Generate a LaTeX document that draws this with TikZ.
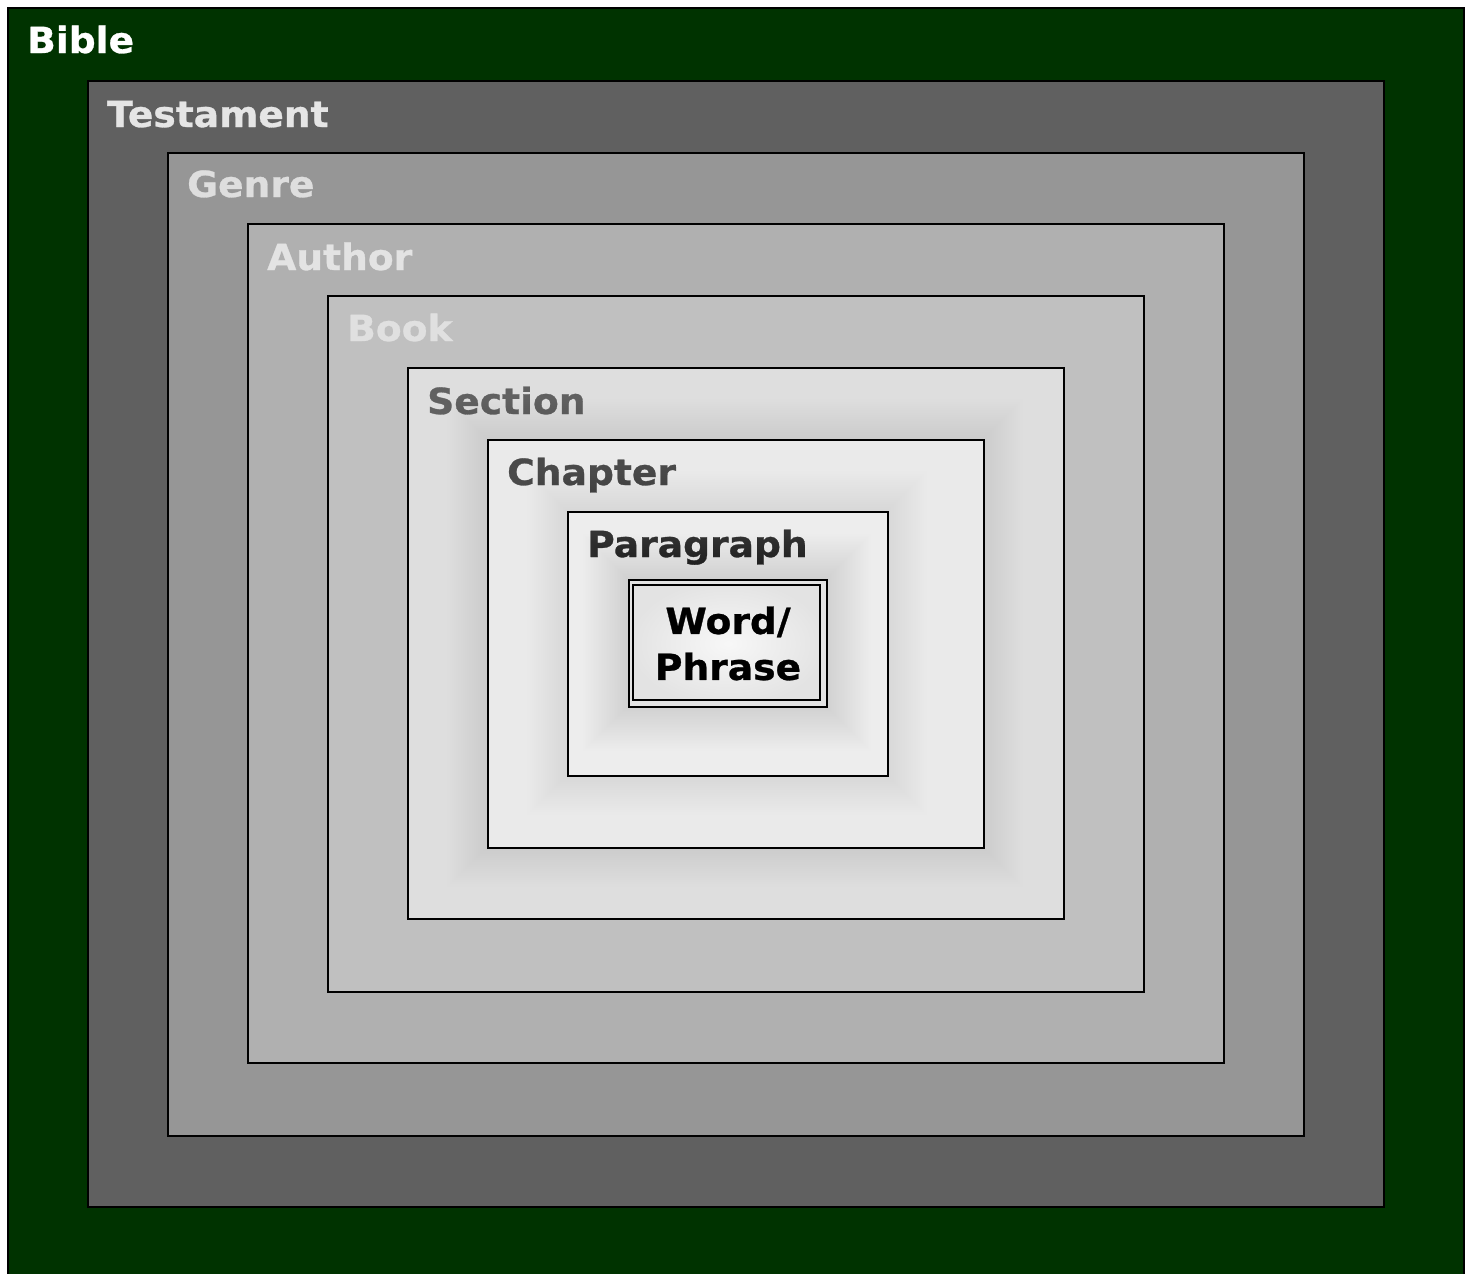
\documentclass[tikz,border=0pt]{standalone}
\usepackage{fontspec}
\setmainfont[FakeStretch=1.045, BoldFeatures={FakeBold=0.8}]{DejaVu Sans}
\definecolor{bibleg}{HTML}{003300}
\definecolor{testc}{HTML}{606060}
\definecolor{genrec}{HTML}{969696}
\definecolor{authorc}{HTML}{B0B0B0}
\definecolor{bookc}{HTML}{C0C0C0}
\definecolor{sectc}{HTML}{DEDEDE}
\definecolor{chapc}{HTML}{EAEAEA}
\definecolor{parac}{HTML}{EDEDED}
\tikzset{
  lvl/.style={draw=black, line width=2.4pt, inner sep=0pt, anchor=north west},
  lbl/.style={anchor=base west, inner sep=0pt, font=\fontsize{36}{44}\selectfont\bfseries},
  glowlayer/.style={fill=black, opacity=0.004},
}
% soft glow around a box: (x1,y1) top-left, (x2,y2) bottom-right (pixels, y down), #5 layers, #6 step
\newcommand{\softglow}[6]{%
  \foreach \k in {1,...,#5}{%
    \pgfmathsetmacro{\r}{\k*#6}%
    \fill[glowlayer] ({#1-\r},{-(#2-\r)}) rectangle ({#3+\r},{-(#4+\r)});
  }%
}
\begin{document}
\begin{tikzpicture}[x=1pt,y=1pt]
\useasboundingbox (0,0) rectangle (1468,-1274);
\fill[white] (0,0) rectangle (1468,-1274);
\clip (0,0) rectangle (1468,-1274);
% Bible
\node[lvl, fill=bibleg, minimum width=1456pt, minimum height=1300pt] (bible) at (7,-7) {};
\node[lbl, text=white] (tbible) at (27,-53) {Bible};
% Testament
\node[lvl, fill=testc, minimum width=1296pt, minimum height=1126pt] (testament) at (87,-80) {};
\node[lbl, text=white!90!black] (ttest) at (107,-127) {Testament};
% Genre
\node[lvl, fill=genrec, minimum width=1136pt, minimum height=983pt] (genre) at (167,-152) {};
\node[lbl, text=white!87!black] (tgenre) at (187,-197) {Genre};
% Author
\node[lvl, fill=authorc, minimum width=976pt, minimum height=839pt] (author) at (247,-223) {};
\node[lbl, text=white!89!black] (tauthor) at (267,-270) {Author};
% Book
\node[lvl, fill=bookc, minimum width=816pt, minimum height=696pt] (book) at (327,-295) {};
\node[lbl, text=white!88!black] (tbook) at (347,-341) {Book};
% Section
\node[lvl, fill=sectc, minimum width=656pt, minimum height=551pt] (section) at (407,-367) {};
\node[lbl, text=black!62] (tsection) at (427,-414) {Section};
% glow around Chapter
\begin{scope}
\clip (409,-369) rectangle (1061,-916);
\softglow{487}{439}{983}{847}{18}{2.2}
\end{scope}
% Chapter
\node[lvl, fill=chapc, minimum width=496pt, minimum height=408pt] (chapter) at (487,-439) {};
\node[lbl, text=black!71] (tchapter) at (507,-485) {Chapter};
% glow around Paragraph
\begin{scope}
\clip (489,-441) rectangle (981,-845);
\softglow{567}{511}{887}{775}{18}{2.2}
\end{scope}
% Paragraph
\node[lvl, fill=parac, minimum width=320pt, minimum height=264pt] (paragraph) at (567,-511) {};
\node[lbl, text=black!80] (tpara) at (587,-557) {Paragraph};
% glow around Word/Phrase
\begin{scope}
\clip (569,-513) rectangle (885,-773);
\softglow{628}{579}{826}{706}{28}{1.6}
\end{scope}
% Word / Phrase
\node[lvl, line width=2pt, inner color=white!97!black, outer color=white!89!black, minimum width=198pt, minimum height=127pt] (word) at (628,-579) {};
\draw[line width=2.4pt] (633,-585) rectangle (820,-700);
\node[inner sep=0pt, align=center, font=\fontsize{36}{46}\selectfont\bfseries, text=black] (tword) at (word.center) {Word/\\Phrase};
\end{tikzpicture}
\end{document}
